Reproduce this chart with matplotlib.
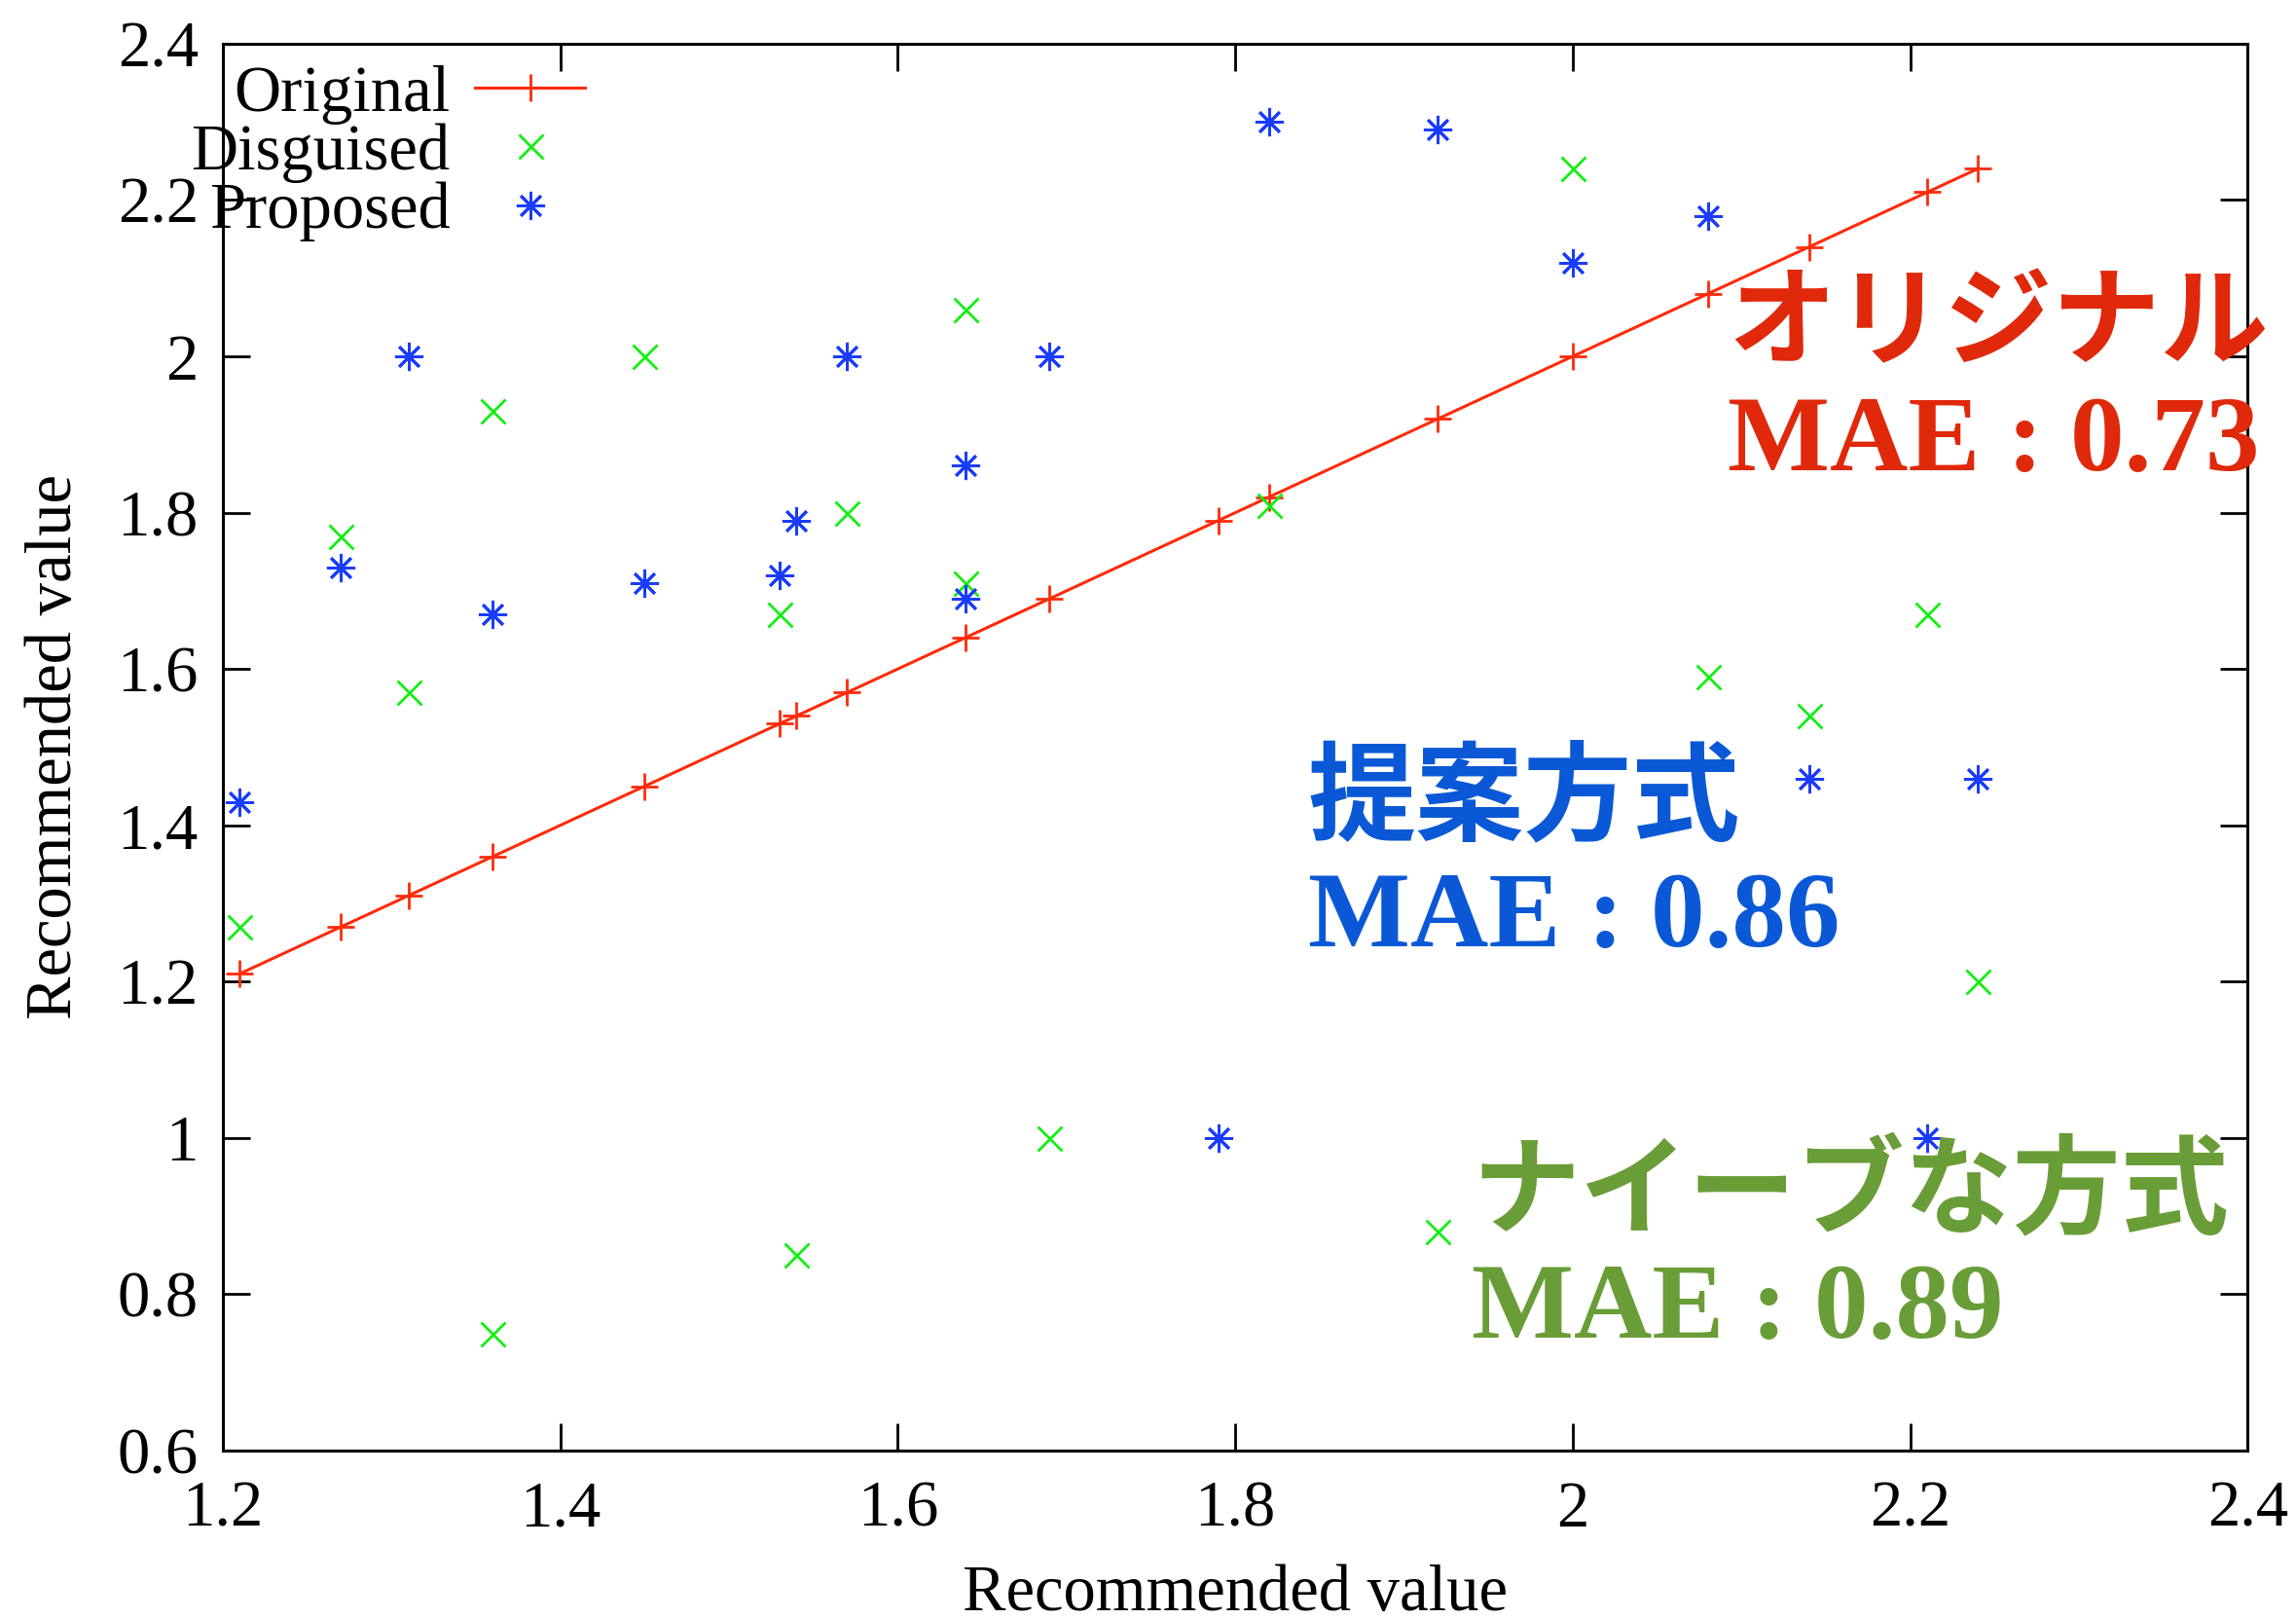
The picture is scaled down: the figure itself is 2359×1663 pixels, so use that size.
import matplotlib
matplotlib.use("Agg")
import matplotlib.pyplot as plt

# ---- data ----
orig_x = [1.21, 1.27, 1.31, 1.36, 1.45, 1.53, 1.54, 1.57, 1.64, 1.69, 1.79, 1.82, 1.92, 2.00, 2.08, 2.14, 2.21, 2.24]
orig_y = [1.21, 1.27, 1.31, 1.36, 1.45, 1.53, 1.54, 1.57, 1.64, 1.69, 1.79, 1.82, 1.92, 2.00, 2.08, 2.14, 2.21, 2.24]

disg_x = [1.21, 1.27, 1.31, 1.36, 1.36, 1.45, 1.53, 1.54, 1.57, 1.64, 1.64, 1.69, 1.82, 1.92, 2.00, 2.08, 2.14, 2.21, 2.24]
disg_y = [1.27, 1.77, 1.57, 1.93, 0.75, 2.00, 1.67, 0.85, 1.80, 2.06, 1.71, 1.00, 1.81, 0.88, 2.24, 1.59, 1.54, 1.67, 1.20]

prop_x = [1.21, 1.27, 1.31, 1.36, 1.45, 1.53, 1.54, 1.57, 1.64, 1.64, 1.69, 1.79, 1.82, 1.92, 2.00, 2.08, 2.14, 2.21, 2.24]
prop_y = [1.43, 1.73, 2.00, 1.67, 1.71, 1.72, 1.79, 2.00, 1.86, 1.69, 2.00, 1.00, 2.30, 2.29, 2.12, 2.18, 1.46, 1.00, 1.46]

series_labels = ["Original", "Disguised", "Proposed"]
x_ticks = [1.2, 1.4, 1.6, 1.8, 2.0, 2.2, 2.4]
x_ticklabels = ["1.2", "1.4", "1.6", "1.8", "2", "2.2", "2.4"]
y_ticks = [0.6, 0.8, 1.0, 1.2, 1.4, 1.6, 1.8, 2.0, 2.2, 2.4]
y_ticklabels = ["0.6", "0.8", "1", "1.2", "1.4", "1.6", "1.8", "2", "2.2", "2.4"]

annotations = [
    ("オリジナル", "MAE : 0.73", 2.092, 2.040, 1.888, "#e0280a"),
    ("提案方式", "MAE : 0.86", 1.843, 1.432, 1.279, "#0a58d6"),
    ("ナイーブな方式", "MAE : 0.89", 1.940, 0.928, 0.778, "#699d37"),
]

serif = ["Liberation Serif", "DejaVu Serif"]
plt.rcParams['font.family'] = serif

fig = plt.figure(figsize=(23.59, 16.63), dpi=100)
ax = fig.add_axes([0.097, 0.104, 0.882, 0.869])

ax.plot(orig_x, orig_y, color="#ff2a0a", lw=2.2, marker="+", ms=20, mew=2,
        label=series_labels[0])
ax.plot(disg_x, disg_y, ls="none", color="#11ee11", marker="x", ms=18, mew=2,
        label=series_labels[1])
ax.plot(prop_x, prop_y, ls="none", color="#1a3cff", marker=(8, 2, 0), ms=21, mew=2,
        label=series_labels[2])

ax.set_xlim(1.2, 2.4)
ax.set_ylim(0.6, 2.4)
ax.set_xticks(x_ticks)
ax.set_xticklabels(x_ticklabels)
ax.set_yticks(y_ticks)
ax.set_yticklabels(y_ticklabels)
ax.tick_params(direction="in", length=20, width=2, labelsize=48,
               top=True, right=True)
ax.tick_params(axis="x", pad=22)
ax.tick_params(axis="y", pad=18)
for s in ax.spines.values():
    s.set_linewidth(2.2)

ax.set_xlabel("Recommended value", fontsize=48, labelpad=18)
ax.set_ylabel("Recommended value", fontsize=48, labelpad=24)

leg = ax.legend(loc="upper right", bbox_to_anchor=(0.179, 0.985), frameon=False,
                markerfirst=False, fontsize=48, handlelength=1.7,
                handletextpad=0.38, labelspacing=-0.02, borderpad=0,
                borderaxespad=0)

for jp, mae, x, yj, ym, col in annotations:
    ax.text(x, yj, jp, fontsize=80, color=col, fontweight="bold",
            family=["Noto Sans CJK JP", "DejaVu Sans"], ha="left", va="center")
    ax.text(x, ym, mae, fontsize=80, color=col, fontweight="bold",
            family=serif, ha="left", va="center")

fig.savefig("out.png", dpi=100)
